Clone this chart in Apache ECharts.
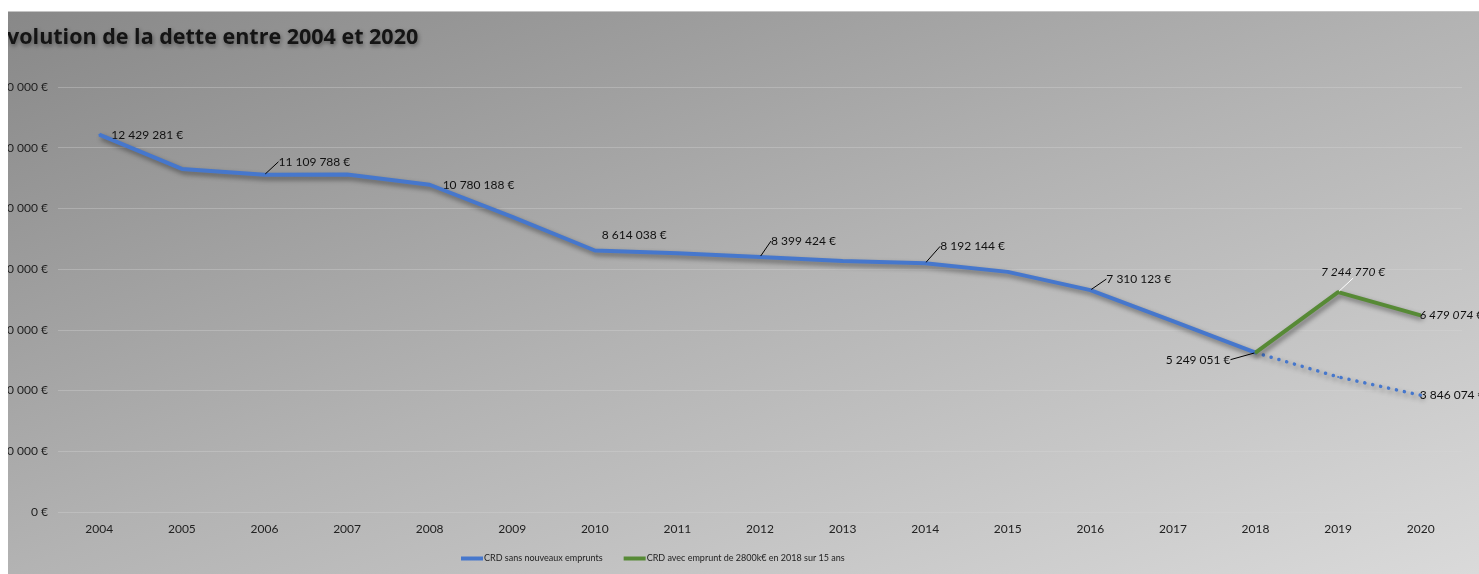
<!DOCTYPE html>
<html>
<head>
<meta charset="utf-8">
<script src="https://cdn.jsdelivr.net/npm/echarts@6/dist/echarts.min.js"></script>
<style>
  html, body { margin: 0; padding: 0; background: #ffffff; width: 1479px; height: 574px; overflow: hidden; }
  #chart {
    position: absolute; left: 8px; top: 11px; width: 1471px; height: 563px;
    border-top: 1px solid #c4c4c4; box-sizing: border-box;
    background: linear-gradient(to bottom right, #888888 0%, #b3b3b3 50%, #dadada 100%);
  }
</style>
</head>
<body>
<div id="chart"></div>
<script>
// ---- data ----
const years = ['2004','2005','2006','2007','2008','2009','2010','2011','2012','2013','2014','2015','2016','2017','2018','2019','2020'];
const crdSans = [12429281, 11300000, 11109788, 11120000, 10780188, 9720000, 8614038, 8520000, 8399424, 8270000, 8192144, 7910000, 7310123, 6290000, 5249051, null, null];
const crdSansProj = [null, null, null, null, null, null, null, null, null, null, null, null, null, null, 5249051, 4450000, 3846074];
const crdAvec = [null, null, null, null, null, null, null, null, null, null, null, null, null, null, 5249051, 7244770, 6479074];
const yTicks = [0, 2000000, 4000000, 6000000, 8000000, 10000000, 12000000, 14000000];
const seriesNames = ['CRD sans nouveaux emprunts', 'CRD avec emprunt de 2800k€ en 2018 sur 15 ans'];
const titleText = 'Évolution de la dette entre 2004 et 2020';

// ---- label placement (style, separate from data) ----
const sansLabels = {
  0:  { pos: [13, 1] },
  2:  { pos: [15, -12], line: '#000' },
  4:  { pos: [14, 1] },
  6:  { pos: [8, -14] },
  8:  { pos: [12, -15], line: '#000' },
  10: { pos: [16, -16], line: '#000' },
  12: { pos: [17, -10], line: '#000' },
  14: { pos: [-24, 8], align: 'right', line: '#000' }
};
const projLabels = { 16: { pos: [0, 1] } };
const avecLabels = {
  15: { pos: [16, -19], align: 'center', line: '#ffffff', italic: true },
  16: { pos: [0, 1], italic: true }
};

function fmt(v) {
  return String(Math.round(v)).replace(/\B(?=(\d{3})+(?!\d))/g, ' ') + ' €';
}

function buildData(values, cfg) {
  return values.map((v, i) => {
    const c = cfg[i];
    if (v == null) return null;
    if (!c) return { value: v };
    return {
      value: v,
      label: {
        show: true,
        position: c.pos,
        align: c.align || 'left',
        verticalAlign: 'middle',
        fontStyle: c.italic ? 'italic' : 'normal'
      },
      labelLine: c.line ? { show: true, lineStyle: { color: c.line, width: 1 } } : { show: false }
    };
  });
}

const BLUE = '#4677cc';
const GREEN = '#578a36';
const FONT = 'Lato';

const baseLabel = {
  show: false,
  color: '#111',
  fontFamily: FONT,
  fontSize: 12,
  formatter: p => fmt(p.value)
};
const shadow = { shadowColor: 'rgba(0,0,0,0.45)', shadowBlur: 5, shadowOffsetX: 2, shadowOffsetY: 3 };

const chart = echarts.init(document.getElementById('chart'), null, { renderer: 'canvas' });
chart.setOption({
  backgroundColor: 'transparent',
  animation: false,
  graphic: [{
    type: 'text',
    x: -13,
    y: 15,
    z: 10,
    style: {
      text: titleText,
      fontFamily: 'Open Sans', fontWeight: 'bold', fontSize: 21.5, fill: '#141414',
      verticalAlign: 'top',
      textShadowColor: 'rgba(0,0,0,0.4)', textShadowBlur: 4, textShadowOffsetX: 1, textShadowOffsetY: 2
    }
  }],
  legend: {
    data: seriesNames,
    left: 448,
    top: 537,
    icon: 'rect',
    itemWidth: 22,
    itemHeight: 4,
    itemGap: 21,
    textStyle: { fontFamily: FONT, fontSize: 9, color: '#222', padding: [0, 0, 0, -4] }
  },
  grid: { left: 50, right: 17, top: 75, bottom: 62, containLabel: false, outerBoundsMode: 'none' },
  xAxis: {
    type: 'category',
    data: years,
    boundaryGap: true,
    axisLine: { show: false },
    axisTick: { show: false },
    axisLabel: { color: '#222', fontFamily: FONT, fontSize: 12, margin: 11 }
  },
  yAxis: {
    type: 'value',
    min: yTicks[0],
    max: yTicks[yTicks.length - 1],
    interval: yTicks[1] - yTicks[0],
    axisLine: { show: false },
    axisTick: { show: false },
    axisLabel: { color: '#222', fontFamily: FONT, fontSize: 12, margin: 10, formatter: v => fmt(v) },
    splitLine: { lineStyle: { color: 'rgba(215,215,215,0.35)', width: 1 } }
  },
  series: [
    {
      name: seriesNames[0],
      type: 'line',
      data: buildData(crdSans, sansLabels),
      symbol: 'circle', symbolSize: 2, showSymbol: true,
      itemStyle: { color: BLUE },
      lineStyle: Object.assign({ color: BLUE, width: 4 }, shadow),
      label: baseLabel,
      z: 3
    },
    {
      name: 'proj',
      type: 'line',
      data: buildData(crdSansProj, projLabels),
      symbol: 'circle', symbolSize: 2, showSymbol: true,
      itemStyle: { color: BLUE },
      lineStyle: Object.assign({ color: BLUE, width: 3.5, type: [0.1, 8], cap: 'round' }, shadow),
      label: baseLabel,
      z: 2
    },
    {
      name: seriesNames[1],
      type: 'line',
      data: buildData(crdAvec, avecLabels),
      symbol: 'circle', symbolSize: 2, showSymbol: true,
      itemStyle: { color: GREEN },
      lineStyle: Object.assign({ color: GREEN, width: 4 }, shadow),
      label: baseLabel,
      z: 4
    }
  ]
});
</script>
</body>
</html>
